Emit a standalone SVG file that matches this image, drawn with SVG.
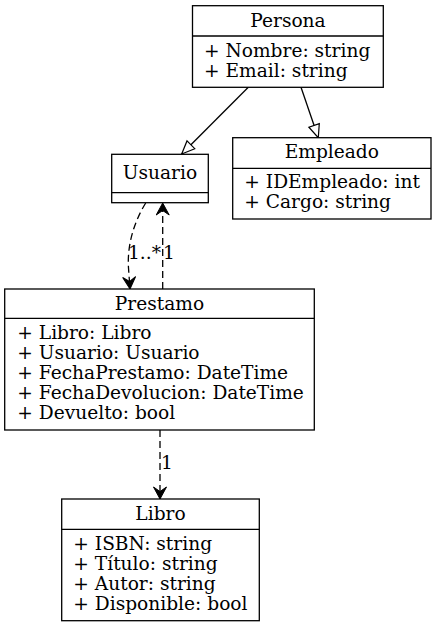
<svg xmlns="http://www.w3.org/2000/svg" width="437" height="627" viewBox="0 0 437 627">
<style>
text{font-family:"DejaVu Serif",serif;font-size:18.6px;fill:#000}
.t{text-anchor:middle}
.box{fill:#fff;stroke:#000;stroke-width:1.3}
.ln{stroke:#000;stroke-width:1.3;fill:none}
.dash{stroke-dasharray:7,4}
</style>
<defs>
<marker id="tri" viewBox="-1 -7 15 14" refX="13" refY="0" markerWidth="15" markerHeight="14" markerUnits="userSpaceOnUse" orient="auto">
<path d="M0,-5.5 L13,0 L0,5.5 z" fill="#fff" stroke="#000" stroke-width="1.2"/>
</marker>
<marker id="vee" viewBox="-1 -7 15 14" refX="12" refY="0" markerWidth="15" markerHeight="14" markerUnits="userSpaceOnUse" orient="auto">
<path d="M12,0 L0,-6.5 L4.5,0 L0,6.5 z" fill="#000" stroke="#000" stroke-width="1"/>
</marker>
</defs>
<g id="connectors">
<path class="ln" d="M248.3,87.3 L181.7,154" marker-end="url(#tri)"/>
<path class="ln" d="M301,87.3 L318.3,137.7" marker-end="url(#tri)"/>
<path class="ln dash" d="M145.7,203 C134,222 127,245 128.5,268 L130,289" marker-end="url(#vee)"/>
<path class="ln dash" d="M162.7,289 L162.7,203" marker-end="url(#vee)"/>
<path class="ln dash" d="M160,430 L160,499" marker-end="url(#vee)"/>
<text x="128" y="259">1..*</text>
<text x="163" y="259">1</text>
<text x="161" y="469">1</text>
</g>
<g id="Persona">
<rect class="box" x="192.5" y="5.7" width="190.8" height="81.6"/>
<line class="ln" x1="192.5" y1="36" x2="383.3" y2="36"/>
<text class="t" x="288" y="26.7">Persona</text>
<text x="204" y="56.7">+ Nombre: string</text>
<text x="204" y="76.7">+ Email: string</text>
</g>
<g id="Usuario">
<rect class="box" x="111.7" y="154.3" width="96.6" height="48.4"/>
<line class="ln" x1="111.7" y1="192.7" x2="208.3" y2="192.7"/>
<text class="t" x="160" y="179">Usuario</text>
</g>
<g id="Empleado">
<rect class="box" x="232.7" y="137.7" width="198.3" height="81.3"/>
<line class="ln" x1="232.7" y1="168.3" x2="431" y2="168.3"/>
<text class="t" x="331.8" y="158.3">Empleado</text>
<text x="244.3" y="188.3">+ IDEmpleado: int</text>
<text x="244.3" y="208.3">+ Cargo: string</text>
</g>
<g id="Prestamo">
<rect class="box" x="4.7" y="289" width="309.6" height="141"/>
<line class="ln" x1="4.7" y1="318.3" x2="314.3" y2="318.3"/>
<text class="t" x="159.5" y="309.5">Prestamo</text>
<text x="17.3" y="339.3">+ Libro: Libro</text>
<text x="17.3" y="359.3">+ Usuario: Usuario</text>
<text x="17.3" y="379.3">+ FechaPrestamo: DateTime</text>
<text x="17.3" y="399.3">+ FechaDevolucion: DateTime</text>
<text x="17.3" y="419.3">+ Devuelto: bool</text>
</g>
<g id="Libro">
<rect class="box" x="61.7" y="499" width="197.6" height="121.7"/>
<line class="ln" x1="61.7" y1="529.3" x2="259.3" y2="529.3"/>
<text class="t" x="160.5" y="520">Libro</text>
<text x="73.3" y="550">+ ISBN: string</text>
<text x="73.3" y="570">+ Título: string</text>
<text x="73.3" y="590">+ Autor: string</text>
<text x="73.3" y="610">+ Disponible: bool</text>
</g>
</svg>
